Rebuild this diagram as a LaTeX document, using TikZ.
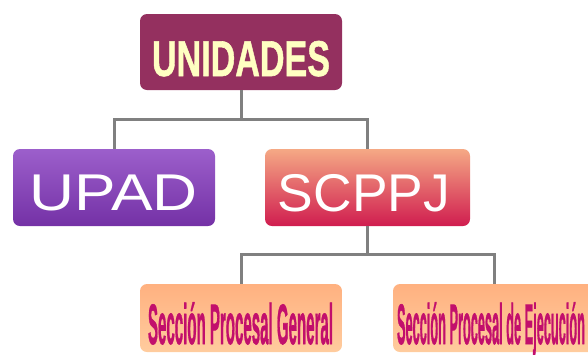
\documentclass[tikz,border=0pt]{standalone}
\usepackage{fontspec}
\setmainfont{Liberation Sans}
\newfontfamily\heavyfont[FakeBold=1.2]{Liberation Sans Bold}
\usepackage{graphicx}
\definecolor{unidfill}{HTML}{94305F}
\definecolor{unidtext}{HTML}{FFFFC2}
\definecolor{upadtop}{HTML}{9C5FCB}
\definecolor{upadbot}{HTML}{7431A6}
\definecolor{scptop}{HTML}{F5A985}
\definecolor{scpbot}{HTML}{D01D4F}
\definecolor{sectop}{HTML}{FFB180}
\definecolor{secbot}{HTML}{FFCC9E}
\definecolor{sectext}{HTML}{C20F6C}
\definecolor{linkgray}{HTML}{808080}
\tikzset{
  box/.style={rounded corners=7pt, inner sep=0pt, minimum width=202pt},
  lbl/.style={anchor=base, inner sep=0pt},
  link/.style={draw=linkgray, line width=3pt}
}
\begin{document}
\begin{tikzpicture}[x=1pt,y=-1pt]
\useasboundingbox (0,0) rectangle (588,354);
\clip (0,0) rectangle (588,354);
% boxes
\node[box, fill=unidfill, minimum height=76pt] (unid) at (241,52) {};
\node[box, top color=upadtop, bottom color=upadbot, minimum height=77pt] (upad) at (114,187.5) {};
\node[box, top color=scptop, bottom color=scpbot, minimum width=205pt, minimum height=77pt] (scppj) at (367.5,187.5) {};
\node[box, top color=sectop, bottom color=secbot, minimum height=68pt] (spg) at (241,318) {};
\node[box, top color=sectop, bottom color=secbot, minimum height=68pt] (spe) at (494,318) {};
% labels
\node[lbl, text=unidtext] (tunid) at (241,76) {\scalebox{3.41}[5.03]{\heavyfont UNIDADES}};
\node[lbl, text=white] (tupad) at (113.5,210) {\scalebox{6.23}[5.17]{UPAD}};
\node[lbl, text=white] (tscp) at (364,211) {\scalebox{5.34}[5.31]{SCPPJ}};
\node[lbl, text=sectext] (tspg) at (240.5,344) {\scalebox{1.506}[5.7]{\heavyfont Sección Procesal General}};
\node[lbl, text=sectext] (tspe) at (491,344) {\scalebox{1.276}[5.7]{\heavyfont Sección Procesal de Ejecución}};
% connectors
\coordinate (j1) at (241,119);
\coordinate (j2) at (367.5,254);
\draw[link] (unid.south) -- (j1) -| (upad.north);
\draw[link] (j1) -| (scppj.north);
\draw[link] (scppj.south) -- (j2) -| (spg.north);
\draw[link] (j2) -| (spe.north);
\end{tikzpicture}
\end{document}
